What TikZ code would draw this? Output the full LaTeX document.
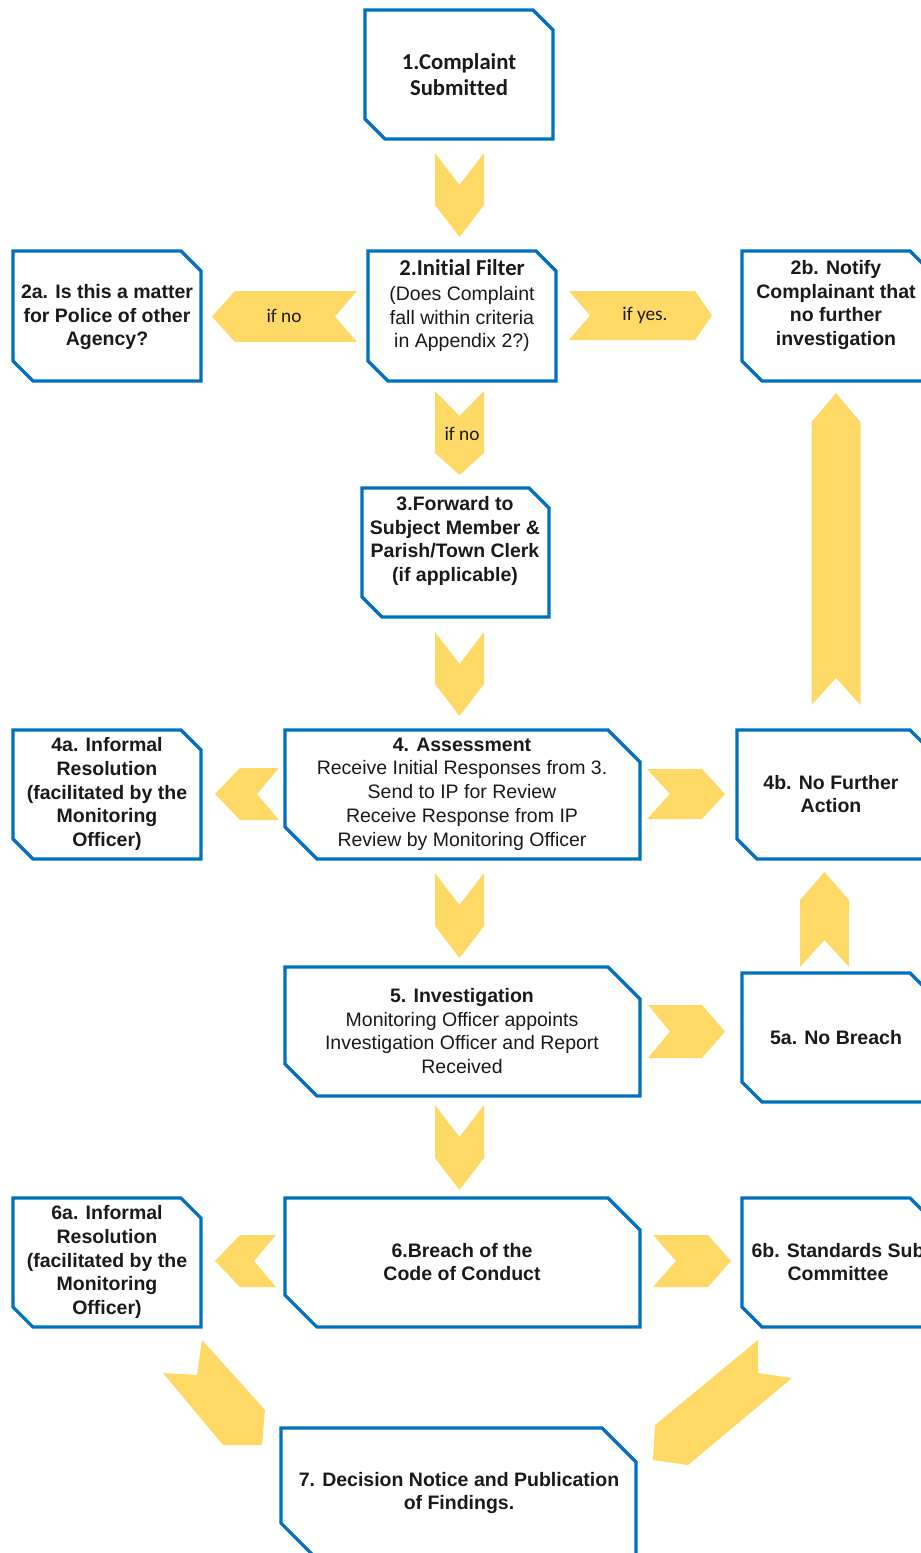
\documentclass[tikz,border=0pt]{standalone}
\usepackage{fontspec}
\setmainfont{Liberation Sans}
\newfontfamily\calfont[Ligatures={NoCommon}]{Carlito}
\definecolor{boxblue}{HTML}{0070C0}
\definecolor{chev}{HTML}{FFD966}
\definecolor{ink}{HTML}{1A1A1A}
\tikzset{
 boxnode/.style={inner sep=0pt, outer sep=0pt, draw=none},
 boxline/.style={draw=boxblue, line width=3.2pt, line join=miter, fill=white},
 chevron/.style={fill=chev, draw=none},
 txt/.style={align=center, text=ink, inner sep=0pt, font=\fontsize{19.5}{23.7}\selectfont},
 btxt/.style={align=center, text=ink, inner sep=0pt, font=\fontsize{19.5}{23.7}\selectfont\bfseries},
 ctxt/.style={align=center, text=ink, inner sep=0pt, font=\calfont\fontsize{19.3}{23}\selectfont},
 cbtxt/.style={align=center, text=ink, inner sep=0pt, font=\calfont\bfseries\fontsize{22.7}{26}\selectfont},
}
\newcommand\snipoutline[2]{%
 \draw[boxline] (#1.north west) -- ([xshift=-#2pt]#1.north east) -- ([yshift=-#2pt]#1.north east)
 -- (#1.south east) -- ([xshift=#2pt]#1.south west) -- ([yshift=#2pt]#1.south west) -- cycle;}
% down: cx, halfwidth, top, notch, side, tip
\newcommand\downchev[6]{\fill[chevron] ({#1-#2},#3) -- (#1,#4) -- ({#1+#2},#3) -- ({#1+#2},#5) -- (#1,#6) -- ({#1-#2},#5) -- cycle;}
% up: cx, halfwidth, tip, shoulder, notch, bottom
\newcommand\upchev[6]{\fill[chevron] (#1,#3) -- ({#1+#2},#4) -- ({#1+#2},#6) -- (#1,#5) -- ({#1-#2},#6) -- ({#1-#2},#4) -- cycle;}
% right: left, notch, shoulder, tip, top, bottom
\newcommand\rightchev[6]{\fill[chevron] (#1,#5) -- (#3,#5) -- (#4,{(#5+#6)/2}) -- (#3,#6) -- (#1,#6) -- (#2,{(#5+#6)/2}) -- cycle;}
% left: tip, shoulder, notch, right, top, bottom
\newcommand\leftchev[6]{\fill[chevron] (#1,{(#5+#6)/2}) -- (#2,#5) -- (#4,#5) -- (#3,{(#5+#6)/2}) -- (#4,#6) -- (#2,#6) -- cycle;}
\begin{document}
\begin{tikzpicture}[x=1pt,y=-1pt]
\useasboundingbox (0,0) rectangle (921,1553);
\clip (0,0) rectangle (921,1553);
\fill[white] (0,0) rectangle (921,1553);

% boxes
\node[boxnode, minimum width=188pt, minimum height=129pt] (b1) at (459,74.5) {};
\node[boxnode, minimum width=188pt, minimum height=130pt] (b2) at (462,316) {};
\node[boxnode, minimum width=188pt, minimum height=130pt] (b2a) at (107,316) {};
\node[boxnode, minimum width=188pt, minimum height=130pt] (b2b) at (836,316) {};
\node[boxnode, minimum width=187pt, minimum height=129pt] (b3) at (455.5,552.5) {};
\node[boxnode, minimum width=355pt, minimum height=129pt] (b4) at (462.5,794.5) {};
\node[boxnode, minimum width=188pt, minimum height=129pt] (b4a) at (107,794.5) {};
\node[boxnode, minimum width=193pt, minimum height=129pt] (b4b) at (833.5,794.5) {};
\node[boxnode, minimum width=355pt, minimum height=129pt] (b5) at (462.5,1031.5) {};
\node[boxnode, minimum width=188pt, minimum height=129pt] (b5a) at (836,1037.5) {};
\node[boxnode, minimum width=355pt, minimum height=129pt] (b6) at (462.5,1262.5) {};
\node[boxnode, minimum width=188pt, minimum height=129pt] (b6a) at (107,1262.5) {};
\node[boxnode, minimum width=188pt, minimum height=129pt] (b6b) at (836,1262.5) {};
\node[boxnode, minimum width=355pt, minimum height=129pt] (b7) at (458.5,1492.5) {};

\snipoutline{b1}{20}
\snipoutline{b2}{20}
\snipoutline{b2a}{20}
\snipoutline{b2b}{20}
\snipoutline{b3}{20}
\snipoutline{b4}{32}
\snipoutline{b4a}{20}
\snipoutline{b4b}{20}
\snipoutline{b5}{32}
\snipoutline{b5a}{20}
\snipoutline{b6}{32}
\snipoutline{b6a}{20}
\snipoutline{b6b}{20}
\snipoutline{b7}{34}

% chevrons
\downchev{459.5}{24.5}{153}{185}{205}{237}
\leftchev{212}{235}{335}{357}{291}{342}
\rightchev{569}{590}{695}{712}{291}{340}
\downchev{459.5}{24.5}{391}{416}{453}{475}
\downchev{459.5}{24.5}{632}{664}{684}{716}
\leftchev{215}{240}{257}{279}{768}{820}
\rightchev{647}{670}{702}{725}{769}{819}
\upchev{836}{24.5}{393}{422}{678}{705}
\downchev{459.5}{24.5}{873}{905}{926}{958}
\rightchev{648}{670}{702}{725}{1005}{1058}
\upchev{824.5}{24.5}{872}{900}{940}{967}
\downchev{459.5}{24.5}{1105}{1137}{1158}{1190}
\leftchev{215}{240}{254}{276}{1235}{1287}
\rightchev{653}{676}{708}{731}{1235}{1287}
\fill[chevron] (202,1340) -- (265,1410) -- (262,1445) -- (223,1445) -- (163,1373) -- (197,1375) -- cycle;
\fill[chevron] (758,1340) -- (758,1373) -- (792,1378) -- (688,1465) -- (653,1460) -- (655,1425) -- cycle;

% texts
\node[cbtxt] (t1) at (459,75) {1.Complaint\\Submitted};
\node[txt] (t2) at (462,306) {{\calfont\bfseries\fontsize{22.7}{26}\selectfont 2.Initial Filter}\\[1pt](Does Complaint\\fall within criteria\\in Appendix 2?)};
\node[btxt] (t2a) at (107,317) {2a. Is this a matter\\for Police of other\\Agency?};
\node[btxt] (t2b) at (836,305) {2b. Notify\\Complainant that\\no further\\investigation};
\node[ctxt] (l1) at (284,316) {if no};
\node[ctxt] (l2) at (645,315) {if yes.};
\node[ctxt] (l3) at (462,434) {if no};
\node[btxt] (t3) at (455,541) {3.Forward to\\Subject Member \&\\Parish/Town Clerk\\(if applicable)};
\node[txt] (t4) at (462,794) {\textbf{4. Assessment}\\Receive Initial Responses from 3.\\Send to IP for Review\\Receive Response from IP\\Review by Monitoring Officer};
\node[btxt] (t4a) at (107,794) {4a. Informal\\Resolution\\(facilitated by the\\Monitoring\\Officer)};
\node[btxt] (t4b) at (831,794) {4b. No Further\\Action};
\node[txt] (t5) at (462,1031) {\textbf{5. Investigation}\\Monitoring Officer appoints\\Investigation Officer and Report\\Received};
\node[btxt] (t5a) at (836,1038) {5a. No Breach};
\node[btxt] (t6) at (462,1262) {6.Breach of the\\Code of Conduct};
\node[btxt] (t6a) at (107,1262) {6a. Informal\\Resolution\\(facilitated by the\\Monitoring\\Officer)};
\node[btxt] (t6b) at (838,1262) {6b. Standards Sub\\Committee};
\node[btxt] (t7) at (459,1493) {7. Decision Notice and Publication\\of Findings.};
\end{tikzpicture}
\end{document}
